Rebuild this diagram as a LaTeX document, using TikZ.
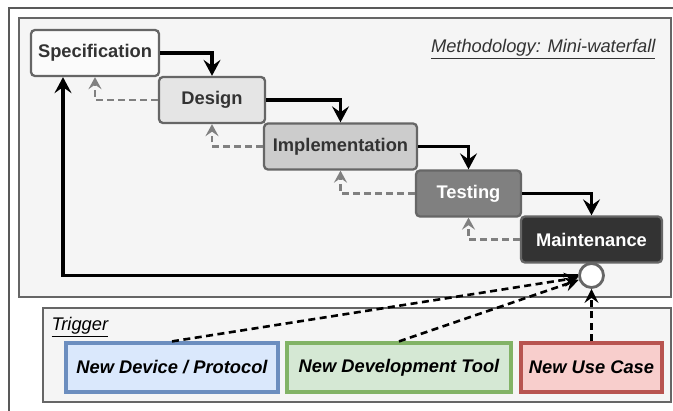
\documentclass[tikz,border=0pt]{standalone}
\usepackage{fontspec}
\setmainfont{Liberation Sans}
\usetikzlibrary{arrows.meta,calc}
\definecolor{bord}{HTML}{666666}
\definecolor{boxfill}{HTML}{F5F5F5}
\definecolor{dark}{HTML}{333333}
\definecolor{fbgray}{HTML}{808080}
\definecolor{bluef}{HTML}{DAE8FC}\definecolor{blued}{HTML}{6C8EBF}
\definecolor{greenf}{HTML}{D5E8D4}\definecolor{greend}{HTML}{82B366}
\definecolor{redf}{HTML}{F8CECC}\definecolor{redd}{HTML}{B85450}
\tikzset{
  phase/.style={draw=bord, line width=2.3pt, rounded corners=4pt, minimum height=46pt,
    inner sep=0pt, font=\fontsize{18.3}{22}\selectfont\bfseries, text=dark},
  trig/.style={line width=3.2pt, minimum height=49pt, inner sep=0pt,
    font=\fontsize{18.3}{22}\selectfont\bfseries\itshape, text=black},
  flow/.style={line width=3.2pt, -{Stealth[length=16pt,width=17pt,inset=6pt]}},
  fb/.style={line width=2.3pt, fbgray, dash pattern=on 6.5pt off 4.5pt, -{Stealth[length=12pt,width=13pt,inset=4.5pt]}},
  trarrow/.style={line width=2.6pt, black, dash pattern=on 7pt off 4.5pt, -{Stealth[length=14pt,width=14pt,inset=5pt]}},
  panel/.style={draw=bord, line width=2.2pt, fill=boxfill},
}
\begin{document}
\begin{tikzpicture}[x=1pt,y=-1pt]
\useasboundingbox (0,0) rectangle (673,411);
\begin{scope}
\clip (0,0) rectangle (673,411);
\draw[draw=black!65, line width=1.5pt] (9,8) rectangle (720,460);
\end{scope}
\draw[panel] (19,18) rectangle (671,297);
\draw[panel] (43,308) rectangle (671,402);
\node[anchor=east, font=\fontsize{18.3}{22}\selectfont\itshape, text=dark] (mtitle) at (659,49) {\underline{Methodology: Mini-waterfall}};
\node[anchor=west, font=\fontsize{18.3}{22}\selectfont\itshape, text=black] (ttitle) at (48,327) {\underline{Trigger}};

\node[phase, fill=white!60!boxfill, minimum width=128pt] (spec) at (95,53) {Specification};
\node[phase, fill=black!10, minimum width=106pt] (design) at (212,100) {Design};
\node[phase, fill=black!20, minimum width=153pt] (impl) at (340.5,146.5) {Implementation};
\node[phase, fill=fbgray, minimum width=105pt, text=white] (test) at (468.5,193.5) {Testing};
\node[phase, fill=dark, minimum width=141pt, text=white] (maint) at (591.5,239.5) {Maintenance};
\node[circle, draw=bord, line width=2.8pt, fill=white, minimum size=24pt, inner sep=0pt] (circ) at (591.5,275.5) {};

\draw[flow] (spec.east) -| (design.north);
\draw[flow] (design.east) -| (impl.north);
\draw[flow] (impl.east) -| (test.north);
\draw[flow] (test.east) -| (maint.north);

\draw[fb] (design.west) -| (spec.south);
\draw[fb] (impl.west) -| (design.south);
\draw[fb] (test.west) -| (impl.south);
\draw[fb] (maint.west) -| (test.south);

\draw[flow] (circ.west) -| ([xshift=-32pt]spec.south);

\node[trig, draw=blued, fill=bluef, minimum width=212pt] (dev) at (172,367.5) {New Device / Protocol};
\node[trig, draw=greend, fill=greenf, minimum width=224pt] (tool) at (399,367.5) {New Development Tool};
\node[trig, draw=redd, fill=redf, minimum width=141pt] (use) at (591.5,367.5) {New Use Case};

\draw[trarrow] (dev.north) -- (circ);
\draw[trarrow] (tool.north) -- (circ);
\draw[trarrow] (use.north) -- (circ);
\end{tikzpicture}
\end{document}
